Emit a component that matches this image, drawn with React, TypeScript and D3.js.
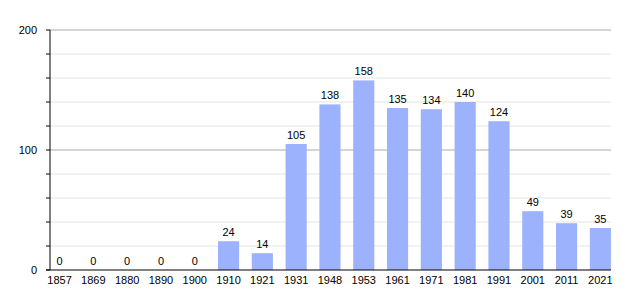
import React from "react";
import * as d3 from "d3";

const years = ["1857","1869","1880","1890","1900","1910","1921","1931","1948","1953","1961","1971","1981","1991","2001","2011","2021"];
const population = [0,0,0,0,0,24,14,105,138,158,135,134,140,124,49,39,35];
const yTicks = [0, 100, 200];
const yMinorTicks = [20, 40, 60, 80, 120, 140, 160, 180];

export default function App() {
  const W = 640, H = 300;
  const left = 50, right = 611, top = 30, bottom = 270;
  const x = d3.scaleBand<string>().domain(years).range([49, 49 + 17 * 33.8]).padding(0);
  const barW = x.bandwidth() * 0.625;
  const y = d3.scaleLinear().domain([0, 200]).range([bottom, top]);
  const font = "'Liberation Sans', Arial, sans-serif";
  return (
    <svg width={W} height={H} style={{ position: "absolute", left: 0, top: 0 }} fontFamily={font}>
      <rect width={W} height={H} fill="#fff" />
      {yMinorTicks.map(t => (
        <g key={"m" + t}>
          <line x1={left} x2={right} y1={y(t)} y2={y(t)} stroke="#e4e4e4" strokeWidth={1} />
          <line x1={left - 4} x2={left} y1={y(t)} y2={y(t)} stroke="#000" strokeWidth={1} />
        </g>
      ))}
      {yTicks.map(t => (
        <g key={"M" + t}>
          {t > 0 && <line x1={left} x2={right} y1={y(t)} y2={y(t)} stroke="#aaa" strokeWidth={1} />}
          <line x1={left - 4} x2={left} y1={y(t)} y2={y(t)} stroke="#000" strokeWidth={1} />
          <text x={37} y={y(t) + 4} textAnchor="end" fontSize={11} fill="#000">{t}</text>
        </g>
      ))}
      {years.map((yr, i) => {
        const v = population[i];
        const bx = x(yr)!;
        return (
          <g key={yr}>
            {v > 0 && <rect x={bx} y={y(v)} width={barW} height={bottom - y(v)} fill="#9db2fc" />}
            <text x={bx + barW / 2} y={y(v) - 5} textAnchor="middle" fontSize={11} fill="#000">{v}</text>
            <text x={bx + barW / 2} y={284} textAnchor="middle" fontSize={11} fill="#000">{yr}</text>
          </g>
        );
      })}
      <line x1={left} x2={left} y1={top} y2={bottom} stroke="#000" strokeWidth={1} />
      <line x1={left - 4} x2={right} y1={bottom} y2={bottom} stroke="#000" strokeWidth={1} />
    </svg>
  );
}
